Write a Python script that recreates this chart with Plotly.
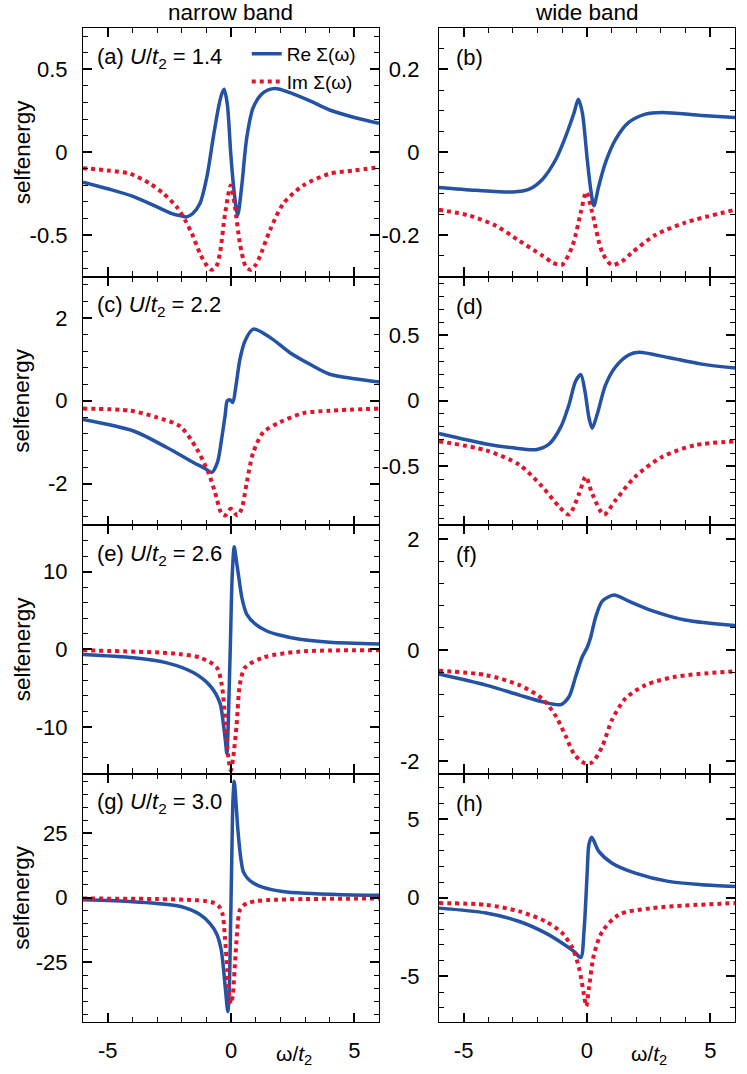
import plotly.graph_objects as go
from plotly.subplots import make_subplots

# ---------------- data ----------------
# (a) narrow band, U/t2 = 1.4
w_a_re = [-6, -5, -4, -3, -2.4, -2.0, -1.8, -1.55, -1.26, -0.98, -0.72, -0.51, -0.38, -0.28, -0.15, -0.01,
          0.12, 0.27, 0.43, 0.64, 0.9, 1.31, 1.78, 2.39, 3.2, 4.0, 5.0, 6.0]
re_a = [-0.18, -0.22, -0.265, -0.33, -0.37, -0.385, -0.39, -0.37, -0.31, -0.15, 0.09, 0.27, 0.35, 0.38, 0.29, -0.01,
        -0.23, -0.38, -0.21, 0.09, 0.27, 0.36, 0.385, 0.36, 0.31, 0.255, 0.21, 0.175]
w_a_im = [-6, -5, -4.09, -3.28, -2.74, -2.2, -1.86, -1.59, -1.26, -1.0, -0.78, -0.6, -0.45, -0.24, -0.01,
          0.16, 0.36, 0.6, 0.8, 1.0, 1.17, 1.58, 2.12, 2.93, 4.0, 5.0, 6.0]
im_a = [-0.096, -0.11, -0.13, -0.19, -0.25, -0.33, -0.41, -0.49, -0.61, -0.68, -0.71, -0.69, -0.61, -0.37, -0.2,
        -0.33, -0.55, -0.69, -0.71, -0.68, -0.63, -0.47, -0.31, -0.2, -0.13, -0.11, -0.09]

# (b) wide band, U/t2 = 1.4
w_b_re = [-6, -4.5, -3.0, -2.34, -1.8, -1.26, -0.86, -0.52, -0.35, -0.19, 0.01, 0.15, 0.28, 0.48, 0.75,
          1.16, 1.69, 2.37, 3.04, 4.65, 6.0]
re_b = [-0.085, -0.092, -0.096, -0.089, -0.065, -0.017, 0.039, 0.096, 0.128, 0.096, -0.017, -0.089, -0.129,
        -0.081, -0.025, 0.031, 0.072, 0.092, 0.096, 0.089, 0.084]
w_b_im = [-6, -4.76, -3.68, -2.74, -1.8, -1.4, -1.02, -0.59, -0.25, -0.03, 0.21, 0.62, 1.0, 1.4, 1.83, 2.77, 3.98, 6.0]
im_b = [-0.139, -0.153, -0.178, -0.214, -0.25, -0.266, -0.272, -0.226, -0.145, -0.096, -0.145, -0.242, -0.272,
        -0.264, -0.242, -0.2, -0.17, -0.139]

# (c) narrow band, U/t2 = 2.2
w_c_re = [-6, -3.95, -2.6, -1.53, -1.1, -0.78, -0.55, -0.38, -0.24, -0.15, -0.04, 0.07, 0.2, 0.36, 0.57, 0.9,
          1.58, 2.39, 3.2, 4.0, 5.0, 6.0]
re_c = [-0.45, -0.73, -1.13, -1.49, -1.62, -1.73, -1.49, -0.92, -0.36, 0.0, 0.02, -0.04, 0.36, 1.0, 1.45, 1.73,
        1.53, 1.16, 0.88, 0.64, 0.53, 0.45]
w_c_im = [-6, -4.09, -3.01, -2.06, -1.39, -0.92, -0.65, -0.38, -0.24, -0.01, 0.26, 0.43, 0.64, 0.9, 1.31, 1.98,
          2.93, 4.0, 6.0]
im_c = [-0.19, -0.24, -0.40, -0.62, -1.16, -1.73, -2.21, -2.73, -2.77, -2.61, -2.77, -2.61, -1.97, -1.25, -0.76,
        -0.52, -0.30, -0.24, -0.19]

# (d) wide band, U/t2 = 2.2
w_d_re = [-6, -4.09, -3.0, -2.07, -1.53, -1.06, -0.73, -0.46, -0.25, -0.08, 0.08, 0.21, 0.42, 0.75, 1.16, 1.69,
          2.1, 3.3, 4.65, 6.0]
re_d = [-0.25, -0.33, -0.36, -0.374, -0.33, -0.2, -0.03, 0.15, 0.2, 0.07, -0.13, -0.21, -0.10, 0.12, 0.26, 0.35,
        0.37, 0.33, 0.28, 0.25]
w_d_im = [-6, -4.09, -2.74, -1.8, -1.13, -0.73, -0.32, -0.05, 0.21, 0.69, 1.16, 1.96, 3.04, 4.38, 6.0]
im_d = [-0.31, -0.38, -0.49, -0.66, -0.81, -0.87, -0.71, -0.58, -0.71, -0.87, -0.76, -0.58, -0.43, -0.34, -0.31]

# (e) narrow band, U/t2 = 2.6
w_e_re = [-6, -3.95, -2.6, -1.53, -0.85, -0.45, -0.31, -0.22, -0.17, -0.04, 0.05, 0.13, 0.2, 0.3, 0.45, 0.64,
          1.0, 1.45, 2.0, 2.79, 4.0, 6.0]
re_e = [-0.68, -1.1, -1.75, -3.0, -4.7, -6.9, -9.6, -12.0, -13.4, -1.06, 9.6, 13.2, 11.8, 9.6, 6.5, 4.5,
        3.2, 2.35, 1.8, 1.28, 0.9, 0.68]
w_e_im = [-6, -2.6, -2.06, -1.26, -0.58, -0.38, -0.22, -0.11, -0.01, 0.09, 0.23, 0.36, 0.57, 1.31, 2.79, 6.0]
im_e = [-0.13, -0.47, -0.64, -1.07, -2.35, -4.5, -9.6, -13.9, -15.6, -13.9, -9.6, -4.5, -2.35, -1.07, -0.3, -0.13]

# (f) wide band, U/t2 = 2.6
w_f_re = [-6, -4.09, -2.74, -1.8, -1.06, -0.73, -0.46, -0.19, 0.01, 0.15, 0.35, 0.62, 1.09, 1.69, 2.63, 3.98, 6.0]
re_f = [-0.43, -0.63, -0.81, -0.93, -0.98, -0.84, -0.48, -0.12, 0.05, 0.23, 0.59, 0.88, 0.99, 0.88, 0.71, 0.54, 0.44]
w_f_im = [-6, -4.09, -2.74, -1.8, -1.26, -0.86, -0.52, -0.12, 0.21, 0.62, 1.02, 1.56, 2.37, 3.58, 6.0]
im_f = [-0.37, -0.45, -0.63, -0.88, -1.19, -1.55, -1.87, -2.03, -2.02, -1.73, -1.25, -0.87, -0.63, -0.48, -0.38]

# (g) narrow band, U/t2 = 3.0
w_g_re = [-6, -4, -3, -2, -1.26, -0.85, -0.58, -0.4, -0.31, -0.22, -0.13, -0.07, -0.02, 0.03, 0.08, 0.13, 0.2,
          0.28, 0.4, 0.5, 0.7, 0.9, 1.3, 2.1, 3.0, 4.5, 6.0]
re_g = [-0.8, -1.5, -2.2, -3.5, -6.5, -10, -14, -20, -27, -36, -44, -35, -12, 15, 38, 45, 37,
        26, 15, 10, 7.2, 5.7, 4.0, 2.4, 1.7, 1.2, 1.0]
w_g_im = [-6, -3, -1.5, -1.0, -0.7, -0.5, -0.35, -0.25, -0.15, -0.08, -0.03, 0.0, 0.03, 0.08, 0.15, 0.25, 0.35,
          0.5, 0.7, 1.0, 1.5, 3, 6]
im_g = [-0.3, -0.5, -0.9, -1.3, -2.0, -3.2, -6, -15, -28, -37, -40, -41, -40, -37, -27, -13, -5,
        -3.0, -2.0, -1.3, -0.9, -0.5, -0.3]

# (h) wide band, U/t2 = 3.0
w_h_re = [-6, -4.09, -2.74, -1.67, -1.0, -0.52, -0.25, -0.12, -0.05, 0.01, 0.08, 0.19, 0.48, 1.02, 1.96, 3.3, 4.65, 6.0]
re_h = [-0.66, -0.97, -1.51, -2.25, -2.89, -3.42, -3.8, -2.1, -0.24, 1.68, 3.4, 3.84, 2.95, 2.2, 1.57, 1.04, 0.83, 0.72]
w_h_im = [-6, -4.09, -2.74, -1.67, -1.0, -0.59, -0.32, -0.12, -0.03, 0.08, 0.28, 0.62, 1.29, 2.63, 6.0]
im_h = [-0.34, -0.45, -0.87, -1.51, -2.25, -3.2, -4.48, -6.18, -6.9, -5.75, -3.63, -2.15, -1.08, -0.66, -0.34]

panel_letters = ["a", "b", "c", "d", "e", "f", "g", "h"]
u_values = ["1.4", "2.2", "2.6", "3.0"]
column_titles = ["narrow band", "wide band"]

x_tickvals = [-5, 0, 5]
x_ticktext = ["-5", "0", "5"]
y_tickvals = [[-0.5, 0, 0.5], [-0.2, 0, 0.2], [-2, 0, 2], [-0.5, 0, 0.5],
              [-10, 0, 10], [-2, 0, 2], [-25, 0, 25], [-5, 0, 5]]
y_ticktext = [["-0.5", "0", "0.5"], ["-0.2", "0", "0.2"], ["-2", "0", "2"], ["-0.5", "0", "0.5"],
              ["-10", "0", "10"], ["-2", "0", "2"], ["-25", "0", "25"], ["-5", "0", "5"]]
y_minor = [0.1, 0.05, 0.4, 0.1, 2, 0.4, 5, 1]
y_ranges = [[-0.75, 0.75], [-0.3, 0.3], [-3, 3], [-0.95, 0.95],
            [-16, 16], [-2.22, 2.25], [-48, 48], [-7.9, 7.9]]

panels = [(w_a_re, re_a, w_a_im, im_a), (w_b_re, re_b, w_b_im, im_b),
          (w_c_re, re_c, w_c_im, im_c), (w_d_re, re_d, w_d_im, im_d),
          (w_e_re, re_e, w_e_im, im_e), (w_f_re, re_f, w_f_im, im_f),
          (w_g_re, re_g, w_g_im, im_g), (w_h_re, re_h, w_h_im, im_h)]

# ---------------- figure ----------------
BLUE = "#2452a5"
RED = "#e3132c"
FONT = "Liberation Sans, Arial, Helvetica, sans-serif"

fig = make_subplots(rows=4, cols=2, horizontal_spacing=0.0919, vertical_spacing=0.0)

for i, (wr, vr, wi, vi) in enumerate(panels):
    r, c = i // 2 + 1, i % 2 + 1
    first = (i == 0)
    fig.add_trace(go.Scatter(x=wr, y=vr, mode="lines", name="Re \u03a3(\u03c9)",
                             line=dict(color=BLUE, width=3.5, shape="spline", smoothing=0.8),
                             showlegend=first, legendrank=1), row=r, col=c)
    fig.add_trace(go.Scatter(x=wi, y=vi, mode="lines", name="Im \u03a3(\u03c9)",
                             line=dict(color=RED, width=4, dash="dot", shape="spline", smoothing=0.8),
                             showlegend=first, legendrank=2), row=r, col=c)

axis_common = dict(showline=True, linecolor="black", linewidth=1.2, mirror="allticks",
                   ticks="inside", ticklen=9, tickwidth=1.6, tickcolor="black",
                   showgrid=False, zeroline=False,
                   tickfont=dict(family=FONT, size=22, color="black"))

for i in range(8):
    r, c = i // 2 + 1, i % 2 + 1
    fig.update_xaxes(range=[-6, 6], tickmode="array", tickvals=x_tickvals, ticktext=x_ticktext,
                     showticklabels=(r == 4), ticklabelstandoff=8,
                     minor=dict(ticks="inside", ticklen=5, tickwidth=1.2, tickcolor="black",
                                tickmode="linear", dtick=1, tick0=0, showgrid=False),
                     row=r, col=c, **axis_common)
    fig.update_yaxes(range=y_ranges[i], tickmode="array", tickvals=y_tickvals[i], ticktext=y_ticktext[i],
                     ticklabelstandoff=(10 if c == 1 else 14),
                     minor=dict(ticks="inside", ticklen=5, tickwidth=1.2, tickcolor="black",
                                tickmode="linear", dtick=y_minor[i], tick0=0, showgrid=False),
                     row=r, col=c, **axis_common)

annotations = []
# column titles
for j, t in enumerate(column_titles):
    xc = 0.2267 if j == 0 else 0.7726
    annotations.append(dict(text=t, x=xc, y=1.016, xref="paper", yref="paper", showarrow=False,
                            xanchor="center", yanchor="middle", font=dict(family=FONT, size=22.5, color="black")))
# y titles
for k in range(4):
    annotations.append(dict(text="selfenergy", x=-0.0934, y=0.875 - 0.25 * k, xref="paper", yref="paper",
                            showarrow=False, textangle=-90, xanchor="center", yanchor="middle",
                            font=dict(family=FONT, size=22.5, color="black")))
# x titles
for xc in [0.323, 0.868]:
    annotations.append(dict(text="\u03c9/<i>t</i><sub>2</sub>", x=xc, y=-0.033, xref="paper", yref="paper",
                            showarrow=False, xanchor="center", yanchor="middle",
                            font=dict(family=FONT, size=21, color="black")))
# panel labels
for i in range(8):
    r, c = i // 2, i % 2
    ytop = 1 - 0.25 * r
    if c == 0:
        txt = "(%s) <i>U</i>/<i>t</i><sub>2</sub> = %s" % (panel_letters[i], u_values[r])
        xl = (95 - 83) / 653
    else:
        txt = "(%s)" % panel_letters[i]
        xl = (455 - 83) / 653
    annotations.append(dict(text=txt, x=xl, y=ytop - 0.030, xref="paper", yref="paper", showarrow=False,
                            xanchor="left", yanchor="middle", font=dict(family=FONT, size=22, color="black")))

fig.update_layout(
    template="simple_white",
    width=747, height=1074,
    margin=dict(l=83, r=11, t=28, b=46),
    paper_bgcolor="white", plot_bgcolor="white",
    font=dict(family=FONT, size=21, color="black"),
    annotations=annotations,
    showlegend=True,
    legend=dict(x=(247 - 83) / 653, y=0.993, xanchor="left", yanchor="top",
                bgcolor="rgba(0,0,0,0)", borderwidth=0, tracegroupgap=0,
                font=dict(family=FONT, size=19, color="black"), itemwidth=30),
)

# remove the default 8px page margin so the figure fills the window exactly; hide the modebar
fig.write_html("out.html", config={"displayModeBar": False},
               post_script="document.body.style.margin='0';")
